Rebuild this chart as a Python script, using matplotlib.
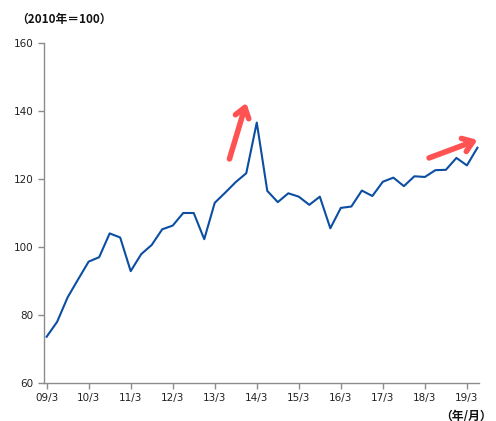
import matplotlib
matplotlib.use("Agg")
import matplotlib.pyplot as plt
import numpy as np

plt.rcParams['font.family'] = ['Noto Sans CJK JP', 'DejaVu Sans']

values = [73.6, 78.0, 85.2, 90.5, 95.7, 97.0, 104.0, 102.8, 92.9, 97.9,
          100.6, 105.2, 106.3, 110.0, 110.0, 102.3, 113.0, 116.0, 119.1, 121.7,
          136.6, 116.5, 113.2, 115.8, 114.8, 112.4, 114.8, 105.5, 111.5, 111.9,
          116.6, 115.0, 119.2, 120.4, 117.9, 120.8, 120.6, 122.6, 122.7, 126.2,
          124.0, 129.2]
tick_labels = ["09/3", "10/3", "11/3", "12/3", "13/3", "14/3", "15/3",
               "16/3", "17/3", "18/3", "19/3"]
y_ticks = [60, 80, 100, 120, 140, 160]

fig = plt.figure(figsize=(4.96, 4.21), dpi=100)
ax = fig.add_axes([44/496, 1-383/421, (479-44)/496, (383-43)/421])

x = np.arange(len(values))
ax.plot(x, values, color='#0B4EA2', lw=1.5)

ax.set_xlim(-0.25, 41.15)
ax.set_ylim(60, 160)
ax.set_yticks(y_ticks)
ax.set_xticks(np.arange(0, 4*len(tick_labels), 4))
ax.set_xticklabels(tick_labels)

for s in ['top', 'right']:
    ax.spines[s].set_visible(False)
for s in ['left', 'bottom']:
    ax.spines[s].set_color('#8c8c8c')
    ax.spines[s].set_linewidth(1.0)
ax.tick_params(axis='both', colors='#8c8c8c', labelcolor='#222222',
               labelsize=7.5, length=4, width=1.0, direction='out')
ax.tick_params(axis='x', pad=3)
for lab in ax.get_xticklabels() + ax.get_yticklabels():
    lab.set_family(['DejaVu Sans'])

arrow_color = '#FF5252'
for (x0, y0), (x1, y1) in [((17.4, 125.9), (19.0, 142.4)),
                           ((36.4, 126.2), (41.0, 131.5))]:
    ax.annotate('', xy=(x1, y1), xytext=(x0, y0),
                arrowprops=dict(arrowstyle='->,head_length=0.7,head_width=0.5',
                                color=arrow_color, lw=4.0,
                                shrinkA=0, shrinkB=0),
                annotation_clip=False)

fig.text(16/496, 1-19/421, '（2010年＝100）', fontsize=8.5, fontweight='bold',
         ha='left', va='center', color='#111111')
fig.text(492/496, 1-416/421, '（年/月）', fontsize=8.5, fontweight='bold',
         ha='right', va='center', color='#111111')

fig.savefig('out.png', dpi=100)
